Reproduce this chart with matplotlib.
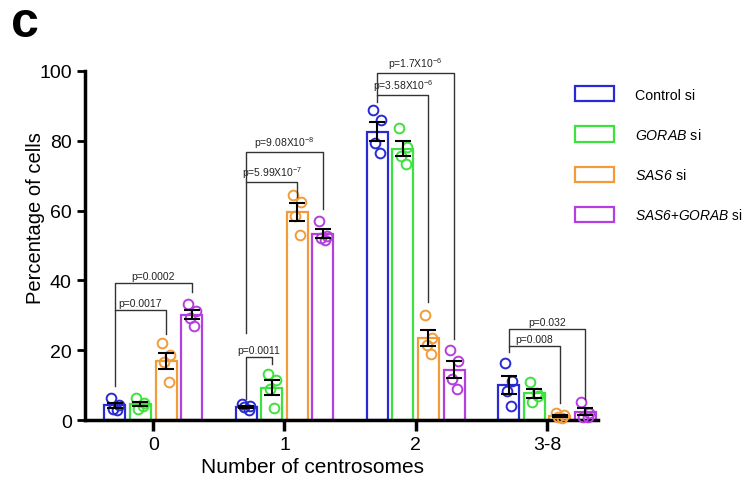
import matplotlib
matplotlib.use("Agg")
import matplotlib.pyplot as plt
import numpy as np
from matplotlib.patches import Patch

plt.rcParams.update({
    'font.family': ['Liberation Sans', 'DejaVu Sans'],
    'mathtext.fontset': 'custom',
    'mathtext.rm': 'Liberation Sans',
    'mathtext.it': 'Liberation Sans:italic',
    'mathtext.sf': 'Liberation Sans:italic',
    'mathtext.bf': 'Liberation Sans:bold',
})

# datos
grupos = ['0', '1', '2', '3-8']
series = ['Control si', r'$\mathsf{GORAB}$ si', r'$\mathsf{SAS6}$ si', r'$\mathsf{SAS6}$+$\mathsf{GORAB}$ si']
colores = ['#2a2ad4', '#3ee23e', '#f29b3a', '#b43ee0']

# puntos individuales (4 replicas) por grupo, por serie
control = [[6.2, 4.4, 3.3, 3.0], [4.6, 4.0, 3.6, 3.0], [88.8, 85.8, 79.4, 76.5], [16.3, 11.3, 8.4, 4.0]]
gorab = [[6.3, 4.9, 3.2, 4.0], [13.2, 11.5, 9.0, 3.5], [83.7, 78.2, 75.7, 73.4], [11.0, 6.8, 5.1, 7.8]]
sas6 = [[22.0, 18.5, 16.5, 11.0], [64.5, 62.5, 58.5, 53.0], [30.0, 23.5, 21.5, 18.9], [2.0, 1.5, 1.0, 0.5]]
sas6_gorab = [[33.2, 31.3, 29.2, 26.9], [57.0, 52.8, 52.0, 51.5], [20.1, 17.0, 11.7, 8.9], [5.3, 2.0, 1.0, 1.0]]
datos = [control, gorab, sas6, sas6_gorab]

# comparaciones: (grupo, serie a, serie b, altura, pie a, pie b, texto)
comparaciones = [
    (0, 0, 2, 31.5, 9.8, 24.6, 'p=0.0017'),
    (0, 0, 3, 39.3, 31.5, 36.7, 'p=0.0002'),
    (1, 0, 1, 18.0, 6.0, 16.0, 'p=0.0011'),
    (1, 0, 2, 68.2, 25.0, 64.0, r'p=5.99X10$^{-7}$'),
    (1, 0, 3, 76.8, 68.2, 60.5, r'p=9.08X10$^{-8}$'),
    (2, 0, 2, 93.2, 91.0, 33.8, r'p=3.58X10$^{-6}$'),
    (2, 0, 3, 99.4, 93.2, 23.2, r'p=1.7X10$^{-6}$'),
    (3, 0, 2, 21.3, 19.5, 5.0, 'p=0.008'),
    (3, 0, 3, 26.0, 21.3, 6.0, 'p=0.032'),
]

fig = plt.figure(figsize=(7.48, 4.89), dpi=100)
ax = fig.add_axes([0.1136, 0.139, 0.686, 0.714])

x = np.arange(len(grupos))
paso = 0.195
ancho = 0.16
desp = [-0.03, 0.03, -0.015, 0.02]

for i, (serie, col) in enumerate(zip(datos, colores)):
    pos = x + (i - 1.5) * paso
    vals = np.array(serie)
    medias = vals.mean(axis=1)
    sem = vals.std(axis=1, ddof=1) / np.sqrt(vals.shape[1])
    ax.bar(pos, medias, width=ancho, facecolor='white', edgecolor=col, linewidth=1.6, zorder=2)
    for j in range(len(grupos)):
        ax.plot(pos[j] + np.array(desp), vals[j], 'o', mfc='none', mec=col, mew=1.4, ms=7,
                zorder=3, clip_on=False)
    ax.errorbar(pos, medias, yerr=sem, fmt='none', ecolor='black', elinewidth=1.5,
                capsize=6, capthick=1.5, zorder=4)

for g, a, b, h, pa, pb, txt in comparaciones:
    xa = x[g] + (a - 1.5) * paso
    xb = x[g] + (b - 1.5) * paso
    ax.plot([xa, xa, xb, xb], [pa, h, h, pb], color='#333333', lw=1.0, zorder=5, clip_on=False)
    ax.text((xa + xb) / 2, h + 0.6, txt, ha='center', va='bottom', fontsize=7.5, color='#222222')

ax.set_xlim(-0.52, 3.39)
ax.set_ylim(0, 100)
ax.set_yticks([0, 20, 40, 60, 80, 100])
ax.set_xticks(x)
ax.set_xticklabels(grupos)
ax.tick_params(axis='both', labelsize=14, width=2, length=6)
ax.tick_params(axis='x', length=8, width=2.5)
for s in ['top', 'right']:
    ax.spines[s].set_visible(False)
for s in ['left', 'bottom']:
    ax.spines[s].set_linewidth(2.5)
ax.set_xlabel('Number of centrosomes', fontsize=15)
ax.set_ylabel('Percentage of cells', fontsize=14.5)
ax.xaxis.set_label_coords(0.444, -0.105)
ax.yaxis.set_label_coords(-0.078, 0.58)

manejadores = [Patch(facecolor='white', edgecolor=c, linewidth=1.6) for c in colores]
leg = fig.legend(manejadores, series, loc='upper left', bbox_to_anchor=(0.769, 0.822), frameon=False,
                 fontsize=10.2, handlelength=2.75, handleheight=1.3, labelspacing=1.75,
                 handletextpad=1.5, borderpad=0, borderaxespad=0)
leg.get_texts()[3].set_fontsize(9.9)

fig.text(0.015, 0.925, 'c', fontsize=36, fontweight='bold', va='baseline')

fig.savefig('out.png', dpi=100)
